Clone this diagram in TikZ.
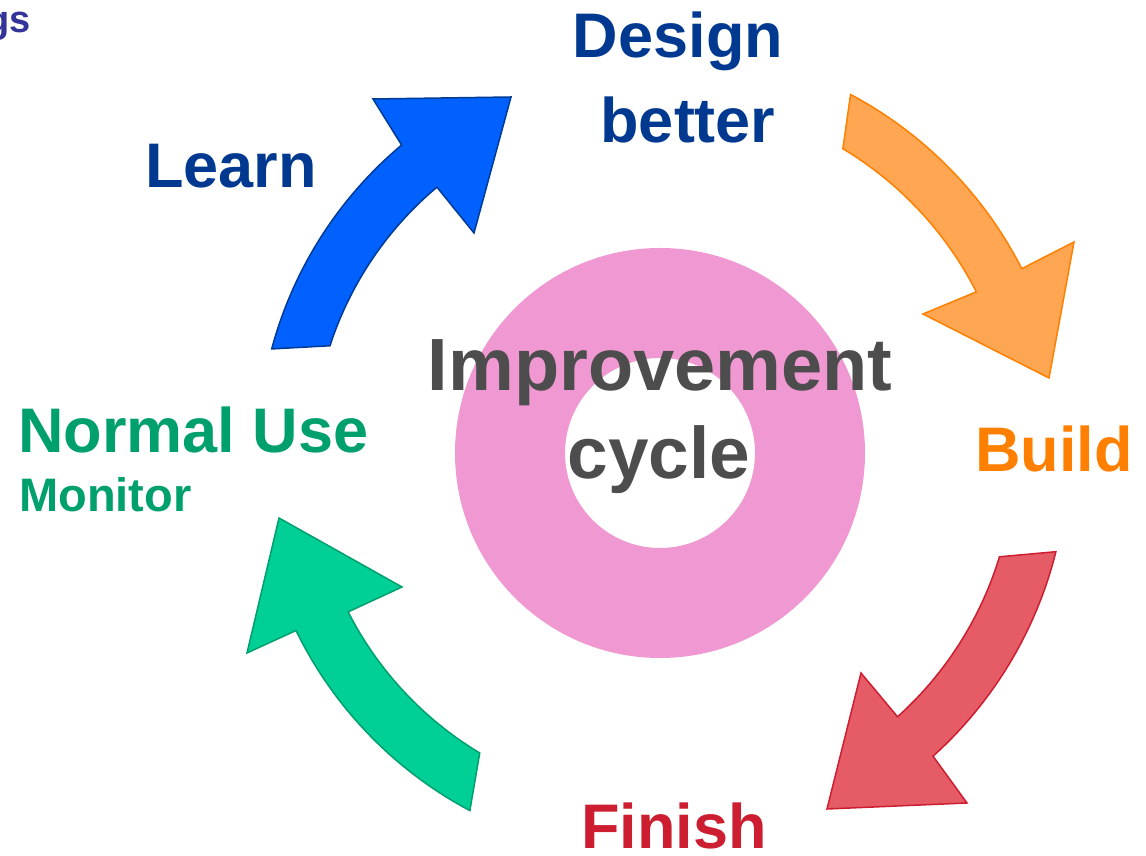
\documentclass[tikz,border=0pt]{standalone}
\usepackage{fontspec}
\setmainfont{Liberation Sans}
\usetikzlibrary{calc}
\definecolor{ringpink}{RGB}{240,152,210}
\definecolor{learnfill}{RGB}{0,97,255}
\definecolor{learnedge}{RGB}{0,60,150}
\definecolor{designtext}{RGB}{0,57,143}
\definecolor{buildfill}{RGB}{255,166,82}
\definecolor{buildedge}{RGB}{255,128,0}
\definecolor{finishfill}{RGB}{229,92,102}
\definecolor{finishedge}{RGB}{204,30,48}
\definecolor{usefill}{RGB}{0,207,150}
\definecolor{useedge}{RGB}{0,160,110}
\definecolor{cyclegray}{RGB}{77,77,77}
\definecolor{cornertext}{RGB}{51,51,153}
\begin{document}
\begin{tikzpicture}[x=1pt, y=1pt,
  every node/.style={font={\bfseries\fontsize{63}{63}\selectfont}, inner sep=0pt, anchor=base},
  loop arrow/.style={line width=1.5pt, line join=miter}]
\useasboundingbox (0,0) rectangle (1146,856);
\coordinate (ring) at (660,403);
\fill[ringpink, even odd rule] (ring) circle[radius=205pt] (ring) circle[radius=95pt];
% learn -> design
\draw[loop arrow, draw=learnedge, fill=learnfill] ($(ring)+(165:402)$)
  arc[start angle=165, end angle=130, radius=402pt] -- (373,757) -- (511,759) -- (474,623)
  -- ($(ring)+(130:347)$) arc[start angle=130, end angle=162, radius=347pt] -- cycle;
% design -> build
\draw[loop arrow, draw=buildedge, fill=buildfill] ($(ring)+(62:406)$)
  arc[start angle=62, end angle=27, radius=406pt] -- (1074,614) -- (1049,478) -- (923,542)
  -- ($(ring)+(27:355)$) arc[start angle=27, end angle=59, radius=355pt] -- cycle;
% build -> finish
\draw[loop arrow, draw=finishedge, fill=finishfill] ($(ring)+(-14:408)$)
  arc[start angle=-14, end angle=-48, radius=408pt] -- (967,53) -- (827,47) -- (861,183)
  -- ($(ring)+(-48:355)$) arc[start angle=-48, end angle=-17, radius=355pt] -- cycle;
% finish -> normal use
\draw[loop arrow, draw=useedge, fill=usefill] ($(ring)+(-118:405)$)
  arc[start angle=-118, end angle=-154, radius=405pt] -- (247,203) -- (279,338) -- (402,269)
  -- ($(ring)+(-153:350)$) arc[start angle=-153, end angle=-121, radius=350pt] -- cycle;
% labels
\node[anchor=base east, text=cornertext, font={\bfseries\fontsize{38}{38}\selectfont}] (corner) at (31,823) {gs};
\node[text=designtext] (design) at (678,798) {Design};
\node[text=designtext] (better) at (688,713) {better};
\node[text=designtext] (learn) at (231,668) {Learn};
\node[text=buildedge, anchor=base west] (build) at (975,384) {Build};
\node[text=finishedge] (finish) at (674,7) {Finish};
\node[text=useedge, anchor=base west] (normal) at (18,403) {Normal Use};
\node[text=useedge, anchor=base west, font={\bfseries\fontsize{47}{47}\selectfont}] (monitor) at (19,344) {Monitor};
\node[text=cyclegray, font={\bfseries\fontsize{74}{74}\selectfont}] (improve) at (660,465) {Improvement};
\node[text=cyclegray, font={\bfseries\fontsize{73}{73}\selectfont}] (cycle) at (659,377) {cycle};
\end{tikzpicture}
\end{document}
